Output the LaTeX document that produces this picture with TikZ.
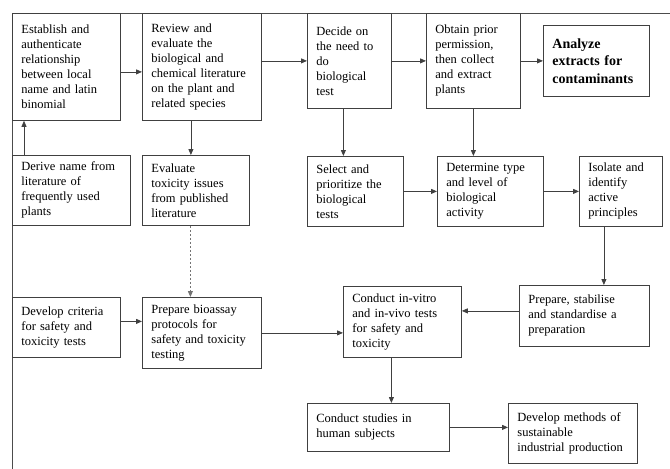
\documentclass[tikz,border=0pt]{standalone}
\usepackage{fontspec}
\setmainfont{Liberation Serif}
\usetikzlibrary{arrows.meta,positioning}
\tikzset{
  box/.style={draw=black!75, line width=0.8pt, align=left, anchor=north west,
    inner xsep=9pt, inner ysep=2pt, font=\fontsize{12.5}{15}\selectfont},
  arr/.style={draw=black!75, line width=0.8pt, -{Triangle[length=6pt,width=5pt]}},
  dotarr/.style={arr, draw=black!55, dash pattern=on 2pt off 2pt}}

\begin{document}
\begin{tikzpicture}[x=1pt,y=-1pt]
        \useasboundingbox (0,0) rectangle (670,469);
        \draw[black!70, line width=0.8pt] (670,13) -- (12,13) -- (12,469);

        % top row
        \node[box, text width=90, minimum height=107](estab) at (12,13) {Establish and\\authenticate\\relationship\\between local\\name and latin\\binomial};
        \node[box, text width=101, minimum height=107](review) at (142,13) {Review and\\evaluate the\\biological and\\chemical literature\\on the plant and\\related species};
        \node[box, text width=66, minimum height=95](decide) at (307,13) {Decide on\\the need to\\do\\biological\\test};
        \node[box, text width=76, minimum height=95](obtain) at (426,13) {Obtain prior\\permission,\\then collect\\and extract\\plants};
        \node[box, text width=88, minimum height=71, font=\fontsize{14}{17.5}\selectfont\bfseries](analyze) at (543,25) {Analyze\\extracts for\\contaminants};

        % second row
        \node[box, text width=100, minimum height=70](derive) at (12,155) {Derive name from\\literature of\\frequently used\\plants};
        \node[box, text width=89, minimum height=70](evaltox) at (142,155) {Evaluate\\toxicity issues\\from published\\literature};
        \node[box, text width=78, minimum height=70](select) at (307,156) {Select and\\prioritize the\\biological\\tests};
        \node[box, text width=88, minimum height=70](determ) at (437,156) {Determine type\\and level of\\biological\\activity};
        \node[box, text width=65, minimum height=70](isolate) at (579,156) {Isolate and\\identify\\active\\principles};

        % third row
        \node[box, text width=90, minimum height=60](criteria) at (12,297) {Develop criteria\\for safety and\\toxicity tests};
        \node[box, text width=101, minimum height=71](bioassay) at (142,297) {Prepare bioassay\\protocols for\\safety and toxicity\\testing};
        \node[box, text width=100, minimum height=71](invitro) at (343,286) {Conduct in-vitro\\and in-vivo tests\\for safety and\\toxicity};
        \node[box, text width=112, minimum height=61](prepare) at (519,285) {Prepare, stabilise\\and standardise a\\preparation};

        % bottom row
        \node[box, text width=124, minimum height=48](human) at (307,403) {Conduct studies in\\human subjects};
        \node[box, text width=111, minimum height=60](sustain) at (508,403) {Develop methods of\\sustainable\\industrial production};

        \coordinate (kl) at ([yshift=5pt]prepare.west);
        \coordinate (mn) at ([yshift=6pt]criteria.east);

        \draw[arr] ([yshift=-5pt]estab.east) -- ([yshift=-5pt]review.west);
        \draw[arr] (review.east |- decide.west) -- (decide.west);
        \draw[arr] (decide) -- (obtain);
        \draw[arr] (obtain) -- (analyze);

        \draw[arr] ([xshift=12pt]derive.north west) -- ([xshift=12pt]estab.south west);
        \draw[arr] ([xshift=-11pt]review.south) -- ([xshift=-11pt]review.south |- evaltox.north);
        \draw[arr] ([xshift=-6pt]decide.south) -- ([xshift=-6pt]decide.south |- select.north);
        \draw[arr] (obtain.south) -- (obtain.south |- determ.north);
        \draw[arr] (select) -- (determ);
        \draw[arr] (determ) -- (isolate);

        \draw[dotarr] ([xshift=-5.5pt]evaltox.south) -- ([xshift=-5.5pt]evaltox.south |- bioassay.north);
        \draw[arr] ([xshift=-17pt]isolate.south) -- ([xshift=-17pt]isolate.south |- prepare.north);
        \draw[arr] (kl) -- (invitro.east |- kl);
        \draw[arr] (mn) -- (bioassay.west |- mn);
        \draw[arr] (bioassay.east) -- (invitro.west |- bioassay.east);
        \draw[arr] ([xshift=-11pt]invitro.south) -- ([xshift=-11pt]invitro.south |- human.north);
        \draw[arr] (human.east) -- (sustain.west |- human.east);
\end{tikzpicture}
\end{document}
